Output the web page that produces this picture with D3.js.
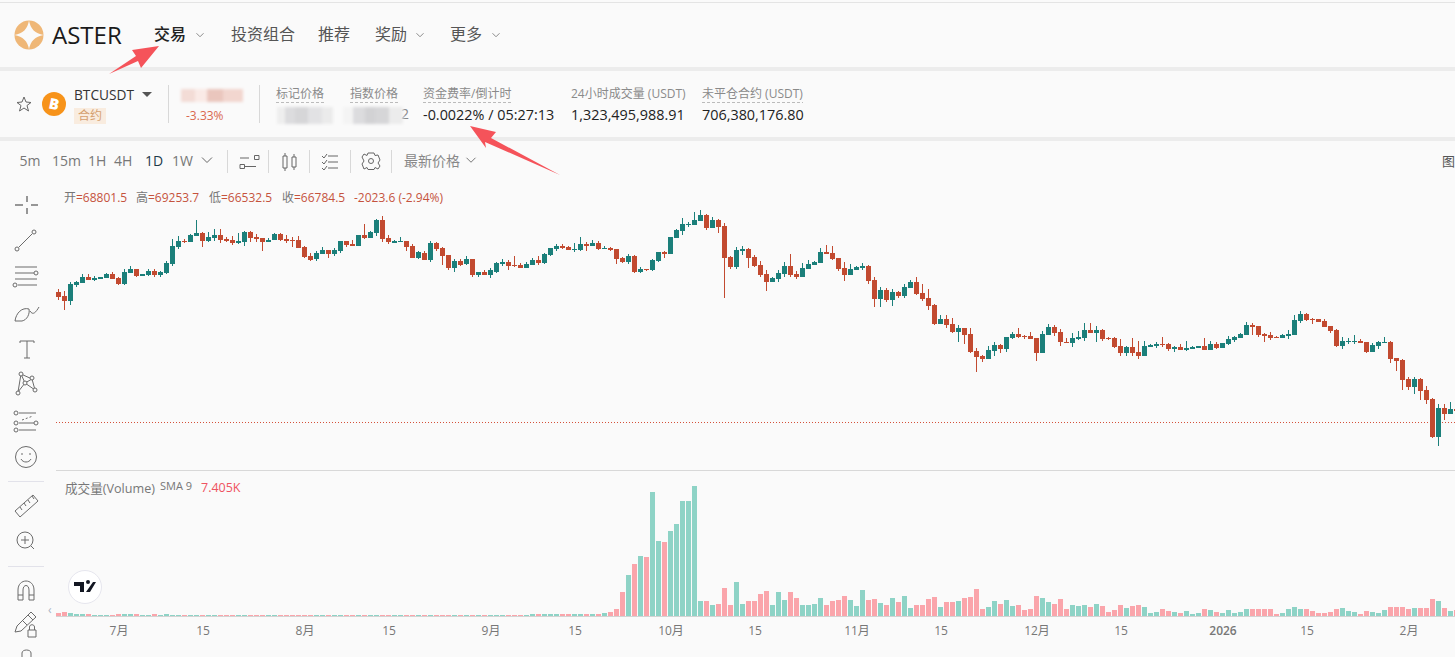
<!DOCTYPE html>
<html>
<head>
<meta charset="utf-8">
<script src="https://cdn.jsdelivr.net/npm/d3@7"></script>
<style>
  html, body { margin: 0; padding: 0; background: #fafafa; overflow: hidden; }
  text { font-family: "Open Sans", "Noto Sans CJK SC", sans-serif; }
</style>
</head>
<body>
<div id="chart"></div>
<script>
// daily candles
const opens = [
  103180,102060,100660,105140,105700,107380,106540,106820,107100,108220,
  107100,105420,108500,109620,107660,107940,109060,107940,108500,111020,
  115780,117460,117180,118860,119700,117460,118300,119140,118020,117740,
  116900,117180,119980,118580,118300,117180,117740,119420,118020,117740,
  117740,115780,113260,112420,113820,114940,113820,114660,117460,116620,
  116060,119140,118300,119700,123340,118300,116900,117180,117460,116060,
  112700,114100,112140,116900,115500,113540,109900,111860,111020,112420,
  107940,108780,107940,108780,111020,111580,110740,110740,109900,110740,
  112140,111300,113540,115220,116060,115780,114940,114940,116620,116060,
  116900,115220,115500,115220,112700,111580,113260,108780,109620,109340,
  111860,114380,113820,118300,120260,121940,121940,123060,124740,121100,
  123340,121660,112980,110180,114660,115220,112980,110740,108220,105980,
  106820,108220,110460,108220,107380,109620,110740,111300,114380,114100,
  112700,109900,107940,109340,109900,110460,106540,101220,103740,100940,
  103180,102060,104300,105980,102900,101500,99540,94220,95620,94220,
  91980,93100,91420,86660,85260,84420,86660,88340,87220,90300,
  91420,90860,90860,90300,86100,91140,93380,91980,89180,88900,
  90020,90300,92540,91700,92540,90300,90300,88060,86100,87780,
  86380,85260,87780,88060,88620,88620,87220,87780,86940,87220,
  87500,88060,86940,88620,87500,88620,89740,90300,91140,93940,
  93660,91420,91140,90580,90300,90860,91140,95060,97020,95620,
  95620,95060,93660,92540,88060,89180,89180,89460,89180,86380,
  88060,88900,89180,84700,84140,78820,76580,78820,75740,73220,
  62580,70700,69020,70420
];
const highs = [
  104020,103460,105980,106260,108220,108220,107660,107380,108500,108780,
  107380,109620,110460,109620,108220,109620,109620,109060,111860,118020,
  118860,118020,119420,123340,119980,119980,120820,120820,118580,118860,
  119700,120260,120260,119420,118300,118300,119700,119700,119140,118580,
  118860,116060,114100,114660,115780,114940,115500,117460,117460,117740,
  119140,122220,120260,123620,124460,119140,117740,118580,117460,116620,
  114660,114660,117460,117180,115780,113540,112420,112420,113260,112420,
  108780,109340,109900,111580,112420,112140,113260,111300,111580,112700,
  113260,114100,115500,116620,116620,116060,116900,118580,117180,117740,
  117460,116060,115780,115220,112980,113820,113540,110180,109620,112420,
  114380,114660,118580,120820,123900,122780,125580,126140,125020,124180,
  123620,122500,113260,115780,116060,115500,113540,111860,109340,107380,
  109340,111580,113820,109060,111300,112140,111860,115500,116340,116060,
  112700,111580,111020,110460,111300,110740,107380,104580,104300,104020,
  103460,105420,106540,107380,105420,104020,99820,96740,96740,95900,
  93940,93100,93100,87500,85540,88060,89180,88620,90580,91980,
  93100,91140,91980,90300,92260,94220,93940,92820,90300,91700,
  92260,94500,94500,93660,92820,90580,90580,90020,88060,90300,
  89460,89460,88620,89180,90580,88900,88060,88620,89460,88060,
  88060,90300,89460,89180,88900,90860,90860,91700,94780,94500,
  93660,91700,91980,90860,91420,92540,96740,97860,97300,95900,
  95620,95620,93660,92820,90580,90300,91140,90020,89180,88900,
  89460,90580,89460,84700,84420,79380,79380,79100,76860,73500,
  71820,71820,72380,71000
];
const lows = [
  100940,98140,99540,104580,105700,106540,106260,106820,107100,106820,
  105140,105140,108500,107380,107660,107660,107380,107380,108220,110460,
  115220,116900,117180,118860,115780,117180,117460,116900,117180,116340,
  116620,116060,117180,117180,114660,117180,117740,117460,116900,115780,
  115500,112700,111860,111860,113820,112700,113260,114100,115780,116060,
  116060,118020,118300,118860,117180,116620,116900,117180,114660,112700,
  112420,112140,111580,114660,110740,109340,108780,110460,110740,107380,
  107380,107940,107100,108500,110460,109340,110180,109900,109900,110740,
  110740,111020,113260,114660,115220,114940,114380,114660,114660,116060,
  114940,115220,114660,111020,111300,111020,108500,108500,109060,109060,
  111580,112700,113820,118300,119140,121380,121940,123060,120540,121100,
  119700,101500,109620,109620,113540,109900,110180,107380,103460,105980,
  105980,107380,107380,106820,107380,109620,110740,111300,113820,112140,
  109060,106260,107940,109340,109340,105420,98980,98980,100380,99260,
  101500,101500,104300,102340,100660,98140,93940,94220,93100,91700,
  89180,88620,86100,80780,83580,84420,85260,86100,86380,90020,
  90300,90020,90020,83860,86100,91140,90860,88060,88900,87780,
  89740,89460,91700,89180,89460,89740,87500,85260,85260,85260,
  84420,85260,87780,87500,87780,86660,86380,86940,86660,87220,
  87500,86940,86940,87220,87500,88340,89180,90300,91140,91140,
  90580,89180,89740,90300,90300,90020,91140,94500,95060,94220,
  94780,93380,91700,87780,87220,88620,88620,88900,86100,86380,
  87220,88900,83300,81060,75740,75740,74620,72940,71820,62300,
  60060,67340,69020,69500
];
const closes = [
  101780,100660,105420,105980,107380,106540,107100,107380,108220,106820,
  105420,108780,109620,107660,108220,109060,107940,108780,111300,116060,
  117460,117180,119140,119700,117460,118580,119140,117740,117460,116900,
  117460,119980,118300,118020,117180,117740,119420,117740,117460,117460,
  115500,112980,112140,114100,114940,113820,114940,117460,116340,116060,
  119140,118300,119980,123340,118020,117180,117460,117460,115780,112700,
  114380,112140,116900,115220,113260,109900,111860,110740,112420,107940,
  108780,107940,109340,111300,111580,110460,110460,109900,111020,112140,
  111300,113820,115500,116060,115500,114940,115220,116620,116060,116900,
  115220,115500,114940,112420,111580,113260,108780,109620,109340,112140,
  114380,113820,118580,120540,122220,122220,123340,124740,121100,123340,
  121380,112700,110180,114940,115220,112700,110460,107940,105980,107100,
  108500,110460,107940,107380,109900,111020,111580,114380,113820,112420,
  109620,107940,109620,110180,110460,106260,101220,103740,100940,103180,
  102060,104580,105980,102620,101220,99260,94220,95620,93940,91980,
  93100,91140,86380,84980,84420,86940,88340,87220,90580,91420,
  90580,90580,90020,86100,91420,93380,91700,89180,88900,90300,
  90580,92540,91700,92540,90020,90020,87780,86100,87780,86100,
  85260,88060,88340,88620,88340,87220,87780,86940,87500,87780,
  88060,86940,88620,87500,88900,90020,90580,91420,93940,93380,
  91140,90860,90300,90300,91140,91420,95340,97020,95340,95340,
  94780,93380,92260,88060,89460,89460,89460,88900,86380,88340,
  89180,89180,84420,83860,78540,76580,78820,75460,72940,62580,
  70700,69020,70420,69860
];
// volume in K
const volumes = [
  2.4,3.2,2.4,1.6,1.6,1.6,.8,.8,.8,.8,
  1.6,1.6,1.6,1.6,.8,.8,1.6,.8,1.6,.8,
  .8,.8,.8,.8,.8,.8,.8,.8,.8,.8,
  .8,.8,.8,.8,.8,.8,.8,.8,.8,.8,
  .8,.8,.8,.8,.8,.8,.8,.8,.8,.8,
  .8,.8,.8,.8,.8,.8,.8,.8,.8,.8,
  .8,.8,.8,.8,.8,.8,.8,.8,.8,.8,
  .8,.8,.8,.8,.8,.8,.8,.8,.8,1.6,
  1.6,1.6,1.6,1.6,1.6,1.6,1.6,1.6,1.6,1.6,
  1.6,2.4,3.2,5.6,19.2,32.8,41.6,48,47.2,99.2,
  60,59.2,68,73.6,92,92,104,12,12,8.8,
  9.6,22.4,8.8,27.2,9.6,12,12,17.6,20,8.8,
  19.2,12.8,19.2,14.4,8.8,8.8,9.6,14.4,8.8,12,
  12.8,16,12.8,8,20.8,12.8,13.6,10.4,8.8,14.4,
  11.2,16,6.4,8.8,8.8,13.6,15.2,7.2,11.2,11.2,
  12,14.4,15.2,21.6,5.6,7.2,12,9.6,12.8,8,
  8.8,4.8,5.6,16,14.4,11.2,9.6,13.6,5.6,8.8,
  8,8.8,7.2,9.6,8,3.2,4.8,8.8,6.4,8,
  8.8,7.2,2.4,3.2,5.6,4,3.2,2.4,4,1.6,
  2.4,5.6,4.8,3.2,2.4,4.8,2.4,3.2,5.6,5.6,
  5.6,5.6,5.6,1.6,2.4,5.6,7.2,5.6,5.6,4,
  2.4,2.4,3.2,5.6,6.4,4,3.2,1.6,4,3.2,
  2.4,4.8,7.2,7.2,7.2,5.6,6.4,6.4,6.4,13.6,
  12,6.4,4,4.8
];
const dates = d3.utcDay.range(new Date(Date.UTC(2025, 5, 21)), new Date(Date.UTC(2026, 1, 10)));
const tickDates = [
  [2025,6,1],[2025,6,15],[2025,7,1],[2025,7,15],[2025,8,1],[2025,8,15],[2025,9,1],[2025,9,15],
  [2025,10,1],[2025,10,15],[2025,11,1],[2025,11,15],[2026,0,1],[2026,0,15],[2026,1,1]
].map(d => new Date(Date.UTC(d[0], d[1], d[2])));
const tickLabels = ['7月','15','8月','15','9月','15','10月','15','11月','15','12月','15','2026','15','2月'];
const lastPrice = 66780;

const upColor = '#1b7f7a', downColor = '#c24a30';
const volUp = '#8ed3c6', volDown = '#faa5ab';
const gray = '#8a8a8a', dark = '#222';

const svg = d3.select('#chart').append('svg')
  .attr('width', 1455).attr('height', 657)
  .style('display', 'block');

function label(x, y, str, size, fill, extra) {
  const t = svg.append('text').attr('x', x).attr('y', y)
    .attr('font-size', size).attr('fill', fill).text(str);
  if (extra) t.attr('font-weight', extra);
  return t;
}
function stroke(d, col, w) {
  return svg.append('path').attr('d', d).attr('fill', 'none')
    .attr('stroke', col || '#6b6b6b').attr('stroke-width', w || 1);
}
function band(y, h, col) {
  svg.append('rect').attr('x', 0).attr('y', y).attr('width', 1455).attr('height', h).attr('fill', col);
}
function chevron(x, y, col, s) {
  s = s || 3.5;
  stroke('M' + (x - s) + ' ' + (y - s / 2) + 'L' + x + ' ' + (y + s / 2) + 'L' + (x + s) + ' ' + (y - s / 2), col || '#8a8a8a');
}

// page bands
band(2, 1, '#e4e4e4');
band(67, 4, '#ececec');
band(137, 4, '#ececec');

// ---- scales
const x = d3.scaleUtc().domain([dates[0], dates[233]]).range([58.5, 1456.5]);
const y = d3.scaleLinear().domain([lastPrice, 126140]).range([422, 210]);
const yVol = d3.scaleLinear().domain([0, 104]).range([616, 486]);

const candles = dates.map((d, i) => ({ date: d, o: opens[i], h: highs[i], l: lows[i], c: closes[i], v: volumes[i] }));
const isUp = d => d.c >= d.o;

// pane divider + last price line
svg.append('line').attr('x1', 56).attr('x2', 1455).attr('y1', 470.5).attr('y2', 470.5).attr('stroke', '#d8d8d8');
svg.append('line').attr('x1', 56).attr('x2', 1455).attr('y1', y(lastPrice) + .5).attr('y2', y(lastPrice) + .5)
  .attr('stroke', '#d4513a').attr('stroke-dasharray', '1 2');

// candles
const gC = svg.append('g').attr('shape-rendering', 'crispEdges');
gC.selectAll('.wick').data(candles).enter().append('rect')
  .attr('class', 'wick')
  .attr('x', d => x(d.date) - .5).attr('width', 1)
  .attr('y', d => y(d.h)).attr('height', d => y(d.l) - y(d.h))
  .attr('fill', d => isUp(d) ? upColor : downColor);
gC.selectAll('.body').data(candles).enter().append('rect')
  .attr('class', 'body')
  .attr('x', d => x(d.date) - 2.5).attr('width', 5)
  .attr('y', d => y(Math.max(d.o, d.c)))
  .attr('height', d => Math.abs(y(d.o) - y(d.c)))
  .attr('fill', d => isUp(d) ? upColor : downColor);

// volume
const gV = svg.append('g').attr('shape-rendering', 'crispEdges');
gV.selectAll('rect').data(candles).enter().append('rect')
  .attr('x', d => x(d.date) - 2.5).attr('width', 5)
  .attr('y', d => yVol(d.v)).attr('height', d => 616 - yVol(d.v))
  .attr('fill', d => isUp(d) ? volUp : volDown);

// time axis
const xAxis = d3.axisBottom(x).tickValues(tickDates).tickSize(0).tickPadding(0)
  .tickFormat((d, i) => tickLabels[i]);
const gx = svg.append('g').attr('transform', 'translate(0,616)').call(xAxis);
gx.select('.domain').remove();
gx.append('line').attr('x1', 56).attr('x2', 1455).attr('y1', .5).attr('y2', .5).attr('stroke', '#d3d3d3');
gx.selectAll('.tick text').attr('y', 19).attr('dy', 0).attr('font-size', 12).attr('fill', '#777')
  .attr('font-family', '"Open Sans", "Noto Sans CJK SC", sans-serif')
  .attr('font-weight', (d, i) => tickLabels[i] === '2026' ? 600 : 400);

// ---- top nav
const logo = svg.append('g').attr('transform', 'translate(29,35)');
logo.append('circle').attr('r', 14.5).attr('fill', '#efb777');
logo.append('path').attr('d', 'M0 -14.500Q2 -2 14.500 0Q2 2 0 14.500Q-2 2 -14.500 0Q-2 -2 0 -14.500Z').attr('fill', '#fafafa');
label(52, 43.5, 'ASTER', 24, '#1a1a1a');
label(154, 40, '交易', 16, dark, 500);
chevron(200, 35);
label(231, 40, '投资组合', 16, '#555');
label(318, 40, '推荐', 16, '#555');
label(375, 40, '奖励', 16, '#555');
chevron(420, 35);
label(450, 40, '更多', 16, '#555');
chevron(496, 35);

// ---- ticker row
stroke('M24 97L26 102L31 102.5L27 105.5L28.5 111L24 108L19.500 111L21 105.5L17 102.500L22 102Z', '#666');
svg.append('circle').attr('cx', 54).attr('cy', 104).attr('r', 12).attr('fill', '#f7931a');
label(54, 109.5, 'B', 15, '#fff', 800).attr('text-anchor', 'middle').attr('transform', 'rotate(12 54 104)');
label(74, 100, 'BTCUSDT', 13.7, '#333');
svg.append('path').attr('d', 'M142 92L152 92L147 97Z').attr('fill', '#555');
svg.append('rect').attr('x', 74).attr('y', 108).attr('width', 32).attr('height', 16).attr('fill', '#f9ecdf');
label(78, 120, '合约', 12, '#d5a070');
[168.5, 259.500].forEach(v => svg.append('line').attr('x1', v).attr('x2', v).attr('y1', 85).attr('y2', 123).attr('stroke', '#d8d8d8'));

// blurred values
const defs = svg.append('defs');
defs.append('filter').attr('id', 'mosaic').append('feGaussianBlur').attr('stdDeviation', 1.4);
label(401, 119, '2', 14, '#888');
const blurred = svg.append('g').attr('filter', 'url(#mosaic)');
[[181, 89, 14, 13, '#f3dcd6'], [195, 89, 12, 13, '#faeae6'], [207, 89, 16, 13, '#eac6bd'], [223, 89, 20, 13, '#f2d6cf'],
 [277, 107, 8, 17, '#eeeeee'], [285, 107, 10, 17, '#dcdcde'], [295, 107, 13, 17, '#d6d6d8'], [308, 107, 14, 17, '#e2e2e4'], [322, 107, 11, 17, '#ebebeb'],
 [343, 107, 10, 17, '#f4f4f4'], [353, 107, 12, 17, '#dcdcde'], [365, 107, 10, 17, '#d2d2d4'], [375, 107, 14, 17, '#d6d6d8'], [389, 107, 14, 17, '#ececec']]
  .forEach(r => blurred.append('rect').attr('x', r[0]).attr('y', r[1]).attr('width', r[2]).attr('height', r[3]).attr('fill', r[4]));
label(186, 120, '-3.33%', 12, '#d9694f');

label(276, 98, '标记价格', 12, gray);
label(350, 98, '指数价格', 12, gray);
label(423, 98, '资金费率/倒计时', 12, gray);
label(571, 98, '24小时成交量 (USDT)', 12, gray);
label(702, 98, '未平仓合约 (USDT)', 12, gray);
[[276, 325], [350, 398], [423, 511], [702, 803]].forEach(s =>
  svg.append('line').attr('x1', s[0]).attr('x2', s[1]).attr('y1', 102.5).attr('y2', 102.5)
    .attr('stroke', '#bbb').attr('stroke-dasharray', '3 2'));
label(423, 119.5, '-0.0022% / 05:27:13', 14.4, dark);
label(571, 119.5, '1,323,495,988.91', 14.4, dark);
label(702, 119.5, '706,380,176.80', 14.4, dark);

// ---- chart toolbar
[['5m', 19.5], ['15m', 52], ['1H', 88], ['4H', 114], ['1D', 145], ['1W', 172]].forEach(t =>
  label(t[1], 166, t[0], 14, t[0] === '1D' ? '#1e3a4a' : '#777'));
chevron(207, 160, '#666', 5);
[227.5, 268.5, 309.5, 350.5, 391.5].forEach(v => svg.append('line').attr('x1', v).attr('x2', v).attr('y1', 150).attr('y2', 173).attr('stroke', '#d8d8d8'));
stroke('M240 158H249M254.500 155.500h4.500v4h-4.500zM240 164.500h4.500v4h-4.500zM245 166.500H256', '#666');
stroke('M283 156h4v12h-4zM285 153V156M285 168V171M292 157h4v10h-4zM294 154V157M294 167V170', '#666');
stroke('M328 156H338M328 162H338M328 168H338M322 156l2 2l3 -4M322 162l2 2l3 -4M322 168l2 2l3 -4', '#666');
svg.append('circle').attr('cx', 371).attr('cy', 161).attr('r', 2.5).attr('fill', 'none').attr('stroke', '#666');
stroke('M368 153L374 153L375 155.500L378 155L380 160L378 163L380 166L378 169L375 167.500L374 169.500H368L367 167.500L364 169L362 164L364 161L362 157L364 154L367 155.500Z', '#666');
label(404, 166, '最新价格', 14, '#888');
chevron(471, 160, '#777', 4.5);
label(1442, 166, '图', 13, '#555');

// OHLC legend
const legend = [['开', 64], ['=68801.5', 76, 1], ['高', 136], ['=69253.7', 148, 1], ['低', 209], ['=66532.5', 221, 1],
  ['收', 282], ['=66784.5', 294, 1], ['-2023.6 (-2.94%)', 354, 1]];
legend.forEach(l => label(l[1], 202, l[0], 12, l[2] ? '#c5533d' : '#777'));

// volume legend
label(65, 493, '成交量(Volume)', 12.6, '#777');
label(160, 490, 'SMA 9', 11, '#777');
label(201, 492, '7.405K', 12.5, '#ef5361');

// tradingview badge
svg.append('circle').attr('cx', 85).attr('cy', 587).attr('r', 16.5).attr('fill', '#fff').attr('stroke', '#e6e6ee');
svg.append('path').attr('d', 'M74 582H84V592H80V586H74ZM93 582H96L90 592H86ZM86 582a2 2 0 1 0 4 0a2 2 0 1 0 -4 0').attr('fill', '#131722');
label(48, 614, '‹', 12, '#a8b4c4');

// ---- left tool rail
stroke('M15 205H23M31 205H38M27 196V202M27 208V214', '#333');
stroke('M19 247L32 234', '#6b6b6b');
[[17, 249], [34, 232], [36, 273], [15, 285]].forEach(p =>
  svg.append('circle').attr('cx', p[0]).attr('cy', p[1]).attr('r', 2).attr('fill', 'none').attr('stroke', '#6b6b6b'));
stroke('M15 267H37M15 273H34M15 279H37M18 285H37', '#6b6b6b');
stroke('M15 321C16 313 22 307 29 309C30 314 27 320 22 321ZM30 311C33 316 36 312 39 307', '#6b6b6b');
stroke('M20 343V341H34V343M27 341V358M24 358H30', '#6b6b6b');
stroke('M18 392L21 374L32 379L35 390M21 374L25 383L32 379M25 383L18 392M25 383L35 390', '#6b6b6b');
[[18, 393], [21, 374], [32, 378], [35, 390], [25, 383]].forEach(p =>
  svg.append('circle').attr('cx', p[0]).attr('cy', p[1]).attr('r', 2).attr('fill', '#fafafa').attr('stroke', '#6b6b6b'));
stroke('M19 413H36M19 423H34M19 430H36', '#6b6b6b');
stroke('M22 420L33 416', '#6b6b6b').attr('stroke-dasharray', '2 2');
[[16, 413], [36, 423], [16, 423], [16, 430]].forEach(p =>
  svg.append('circle').attr('cx', p[0]).attr('cy', p[1]).attr('r', 2).attr('fill', 'none').attr('stroke', '#6b6b6b'));
svg.append('circle').attr('cx', 26).attr('cy', 457).attr('r', 10.5).attr('fill', 'none').attr('stroke', '#6b6b6b');
stroke('M21 459C23 463 29 463 31 459M22 453V455M30 453V455', '#6b6b6b');
svg.append('line').attr('x1', 8).attr('x2', 44).attr('y1', 481.5).attr('y2', 481.5).attr('stroke', '#e2e2ea');
stroke('M15 511L33 495L38 501L20 517ZM20 507l2 3M24 503l2 3M28 500l2 3M32 496l2 3', '#6b6b6b');
svg.append('circle').attr('cx', 25).attr('cy', 540).attr('r', 8).attr('fill', 'none').attr('stroke', '#6b6b6b');
stroke('M21 540H29M25 536V544M31 546L34 549', '#6b6b6b');
svg.append('line').attr('x1', 8).attr('x2', 44).attr('y1', 566.5).attr('y2', 566.5).attr('stroke', '#e2e2ea');
stroke('M18 600V590C18 578 34 578 34 590V600H29V590C29 584 23 584 23 590V600ZM18 595H23M29 595H34', '#6b6b6b');
stroke('M17 626L31 612L36 617L21 631L15 632ZM28 615L33 620M22 620L27 625', '#6b6b6b');
stroke('M28 630h8v7h-8zM29.500 630v-3c0 -3 5 -3 5 0v3', '#6b6b6b');
stroke('M22 657V653C22 649 31 649 31 653V657', '#6b6b6b');

// red callout arrows
const arrows = [
  'M109 74L136 56L132 50L159 46L141 68L138 61Z',
  'M470 126L496 132L491 138L560 175L485 142L486 148Z'
];
arrows.forEach(d => svg.append('path').attr('d', d).attr('fill', '#f5535a'));
</script>
</body>
</html>
